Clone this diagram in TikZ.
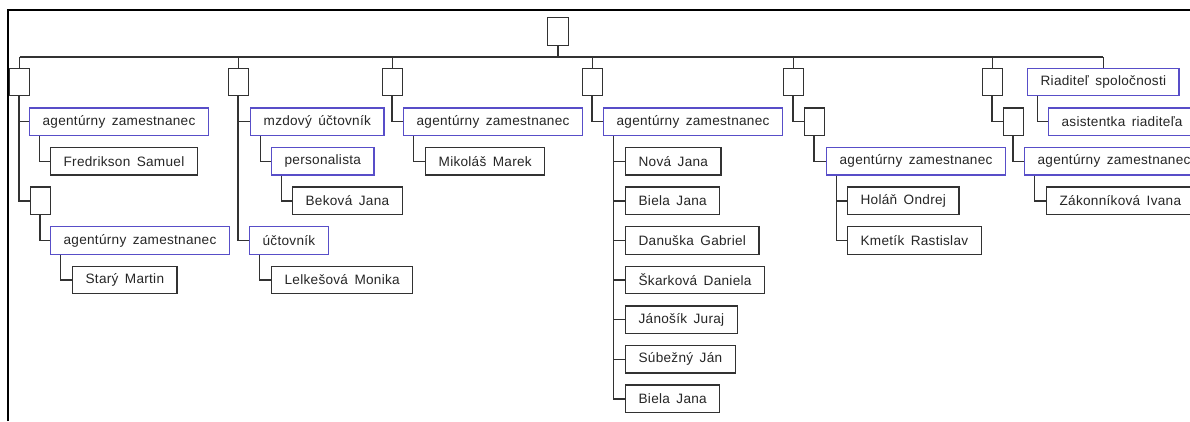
\documentclass[tikz,border=0pt]{standalone}
\usepackage{fontspec}
\setmainfont[LetterSpace=2,WordSpace=1.6]{Liberation Sans}
\definecolor{roleblue}{RGB}{88,78,200}
\definecolor{linegray}{RGB}{50,50,50}
\begin{document}
\begin{tikzpicture}[x=1pt,y=-1pt,
    font=\fontsize{13.6}{15}\selectfont,
    emptybox/.style={draw=linegray,line width=1.3pt,minimum width=20pt,minimum height=27.5pt,inner sep=0pt,anchor=west},
    rolebox/.style={draw=roleblue,line width=1.3pt,minimum height=27.5pt,inner xsep=13pt,inner ysep=0pt,anchor=west,text=black!85},
    personbox/.style={draw=linegray,line width=1.3pt,minimum height=27.5pt,inner xsep=13pt,inner ysep=0pt,anchor=west,text=black!85},
    link/.style={draw=linegray,line width=1.4pt}]
    \useasboundingbox (0,0) rectangle (1190,421);
    \clip (0,0) rectangle (1190,421);
    \fill[white] (0,0) rectangle (1190,421);
    \draw[line width=2pt] (8,421) -- (8,10) -- (1190,10);

    \coordinate (bus) at (0,57);
    \node[emptybox, minimum width=21pt] (root) at (547,31.5) {};

    % first column
    \node[emptybox] (b1) at (9,82) {};
    \node[rolebox] (a1) at (29,121.6) {agentúrny zamestnanec};
    \node[personbox] (p1) at (50,161.2) {Fredrikson Samuel};
    \node[emptybox] (b1b) at (30,200.8) {};
    \node[rolebox] (a1b) at (50,240.4) {agentúrny zamestnanec};
    \node[personbox] (p1b) at (72,280) {Starý Martin};

    % second column
    \node[emptybox] (b2) at (228,82) {};
    \node[rolebox] (a2) at (250,121.6) {mzdový účtovník};
    \node[rolebox] (a2p) at (271,161.2) {personalista};
    \node[personbox] (p2) at (292,200.8) {Beková Jana};
    \node[rolebox] (a2u) at (249,240.4) {účtovník};
    \node[personbox] (p2u) at (271,280) {Lelkešová Monika};

    % third column
    \node[emptybox] (b3) at (382,82) {};
    \node[rolebox] (a3) at (403,121.6) {agentúrny zamestnanec};
    \node[personbox] (p3) at (425,161.2) {Mikoláš Marek};

    % fourth column
    \node[emptybox] (b4) at (582,82) {};
    \node[rolebox] (a4) at (603,121.6) {agentúrny zamestnanec};
    \node[personbox] (p4a) at (625,161.2) {Nová Jana};
    \node[personbox] (p4b) at (625,200.8) {Biela Jana};
    \node[personbox] (p4c) at (625,240.4) {Danuška Gabriel};
    \node[personbox] (p4d) at (625,280) {Škarková Daniela};
    \node[personbox] (p4e) at (625,319.6) {Jánošík Juraj};
    \node[personbox] (p4f) at (625,359.2) {Súbežný Ján};
    \node[personbox] (p4g) at (625,398.8) {Biela Jana};

    % fifth column
    \node[emptybox] (b5) at (783,82) {};
    \node[emptybox] (b5b) at (804,121.6) {};
    \node[rolebox] (a5) at (826,161.2) {agentúrny zamestnanec};
    \node[personbox] (p5a) at (847,200.8) {Holáň Ondrej};
    \node[personbox] (p5b) at (847,240.4) {Kmetík Rastislav};

    % sixth column
    \node[emptybox] (b6) at (982,82) {};
    \node[emptybox] (b6b) at (1003,121.6) {};
    \node[rolebox] (a6) at (1024,161.2) {agentúrny zamestnanec};
    \node[personbox] (p6) at (1046,200.8) {Zákonníková Ivana};
    \node[rolebox] (ceo) at (1027,82) {Riaditeľ spoločnosti};
    \node[rolebox] (asst) at (1048,121.6) {asistentka riaditeľa};

    % bus
    \draw[link] (root.south) -- (root.south |- bus);
    \draw[link] (b1.north |- bus) -- (ceo.north |- bus);
    \draw[link] (b1.north) -- (b1.north |- bus);
    \draw[link] (b2.north) -- (b2.north |- bus);
    \draw[link] (b3.north) -- (b3.north |- bus);
    \draw[link] (b4.north) -- (b4.north |- bus);
    \draw[link] (b5.north) -- (b5.north |- bus);
    \draw[link] (b6.north) -- (b6.north |- bus);
    \draw[link] (ceo.north) -- (ceo.north |- bus);

    % branches
    \draw[link] ([xshift=10pt]b1.south west) |- (a1.west);
    \draw[link] ([xshift=10pt]b1.south west) |- (b1b.west);
    \draw[link] ([xshift=10.5pt]a1.south west) |- (p1.west);
    \draw[link] ([xshift=10pt]b1b.south west) |- (a1b.west);
    \draw[link] ([xshift=10.5pt]a1b.south west) |- (p1b.west);

    \draw[link] ([xshift=10pt]b2.south west) |- (a2.west);
    \draw[link] ([xshift=10pt]b2.south west) |- (a2u.west);
    \draw[link] ([xshift=10.5pt]a2.south west) |- (a2p.west);
    \draw[link] ([xshift=10.5pt]a2p.south west) |- (p2.west);
    \draw[link] ([xshift=10.5pt]a2u.south west) |- (p2u.west);

    \draw[link] ([xshift=10pt]b3.south west) |- (a3.west);
    \draw[link] ([xshift=10.5pt]a3.south west) |- (p3.west);

    \draw[link] ([xshift=10pt]b4.south west) |- (a4.west);
    \draw[link] ([xshift=10.5pt]a4.south west) |- (p4a.west);
    \draw[link] ([xshift=10.5pt]a4.south west) |- (p4b.west);
    \draw[link] ([xshift=10.5pt]a4.south west) |- (p4c.west);
    \draw[link] ([xshift=10.5pt]a4.south west) |- (p4d.west);
    \draw[link] ([xshift=10.5pt]a4.south west) |- (p4e.west);
    \draw[link] ([xshift=10.5pt]a4.south west) |- (p4f.west);
    \draw[link] ([xshift=10.5pt]a4.south west) |- (p4g.west);

    \draw[link] ([xshift=10pt]b5.south west) |- (b5b.west);
    \draw[link] ([xshift=10pt]b5b.south west) |- (a5.west);
    \draw[link] ([xshift=10.5pt]a5.south west) |- (p5a.west);
    \draw[link] ([xshift=10.5pt]a5.south west) |- (p5b.west);

    \draw[link] ([xshift=10pt]b6.south west) |- (b6b.west);
    \draw[link] ([xshift=10pt]b6b.south west) |- (a6.west);
    \draw[link] ([xshift=10.5pt]a6.south west) |- (p6.west);
    \draw[link] ([xshift=10.5pt]ceo.south west) |- (asst.west);
\end{tikzpicture}
\end{document}
